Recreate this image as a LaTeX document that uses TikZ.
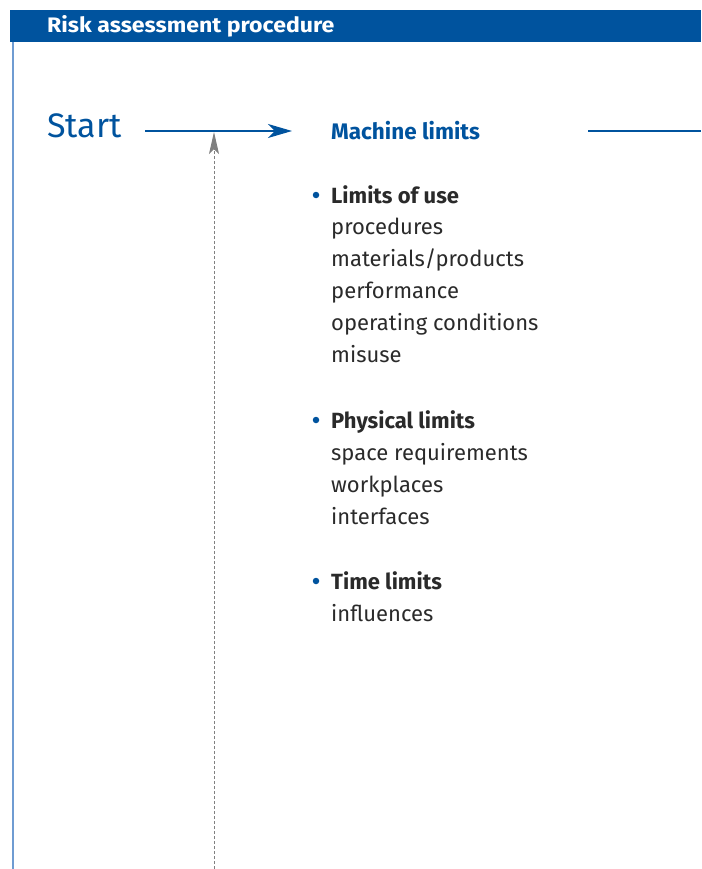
\documentclass[tikz,border=0pt]{standalone}
\usepackage{fontspec}
\setmainfont{Fira Sans}
\usetikzlibrary{arrows.meta, positioning}
\definecolor{riskblue}{HTML}{00539E}
\definecolor{edgeblue}{HTML}{6F9CD2}
\definecolor{textgrey}{HTML}{2A2A2A}
\tikzstyle{heading} = [font=\bfseries\fontsize{21}{24}\selectfont, text=white, anchor=base west, inner sep=0pt, xscale=1.1, transform shape]
\tikzstyle{start} = [font=\fontsize{34}{40}\selectfont, text=riskblue, anchor=base west, inner sep=0pt]
\tikzstyle{title} = [font=\bfseries\fontsize{22.5}{26}\selectfont, text=riskblue, anchor=base west, inner sep=0pt]
\tikzstyle{group} = [font=\bfseries\fontsize{22}{32}\selectfont, text=textgrey, anchor=base west, inner sep=0pt]
\tikzstyle{items} = [font=\fontsize{22}{32}\selectfont, text=textgrey, align=left, inner sep=0pt]
\tikzstyle{bullet} = [circle, fill=riskblue, inner sep=0pt, minimum size=6.5pt]
\tikzstyle{path} = [-{Stealth[length=24pt, width=14pt, inset=7pt]}, line width=1.3pt, riskblue]
\tikzstyle{loop} = [-{Stealth[length=22pt, width=10pt, inset=5pt, fill=gray]}, densely dashed, gray, line width=1pt]

\begin{document}
\begin{tikzpicture}[x=1pt, y=1pt]
    \useasboundingbox (0,0) rectangle (701,-869);
    \fill [riskblue] (10,-10) rectangle (701,-42);
    \draw [edgeblue, line width=2pt] (13,-42) -- (13,-869);
    \node (header) [heading] at (47,-33) {Risk assessment procedure};

    \node (start) [start] at (47,-138) {Start};
    \node (machine) [title] at (331,-139.5) {Machine limits};
    \coordinate (start out) at (145,-131);
    \coordinate (machine in) at (292,-131);
    \coordinate (join) at (214,-132);
    \coordinate (loop in) at (214,-869);
    \coordinate (machine out) at (588,-131);
    \coordinate (next) at (701,-131);

    % Limits of use.
    \node (use) [group] at (331,-203) {Limits of use};
    \node (use dot) [bullet] at (316,-195) {};
    \node (use list) [items, below=15pt of use.base west, anchor=north west] {procedures\\materials/products\\performance\\operating conditions\\misuse};

    % Physical limits.
    \node (physical) [group] at (331,-428) {Physical limits};
    \node (physical dot) [bullet] at (316,-420) {};
    \node (physical list) [items, below=15pt of physical.base west, anchor=north west] {space requirements\\workplaces\\interfaces};

    % Time limits.
    \node (time) [group] at (331,-589) {Time limits};
    \node (time dot) [bullet] at (316,-581) {};
    \node (time list) [items, below=15pt of time.base west, anchor=north west] {influences};

    % Arrows.
    \draw [path] (start out) -- (machine in);
    \draw [loop] (loop in) -- (join);
    \draw [riskblue, line width=1.3pt] (machine out) -- (next);
\end{tikzpicture}
\end{document}
